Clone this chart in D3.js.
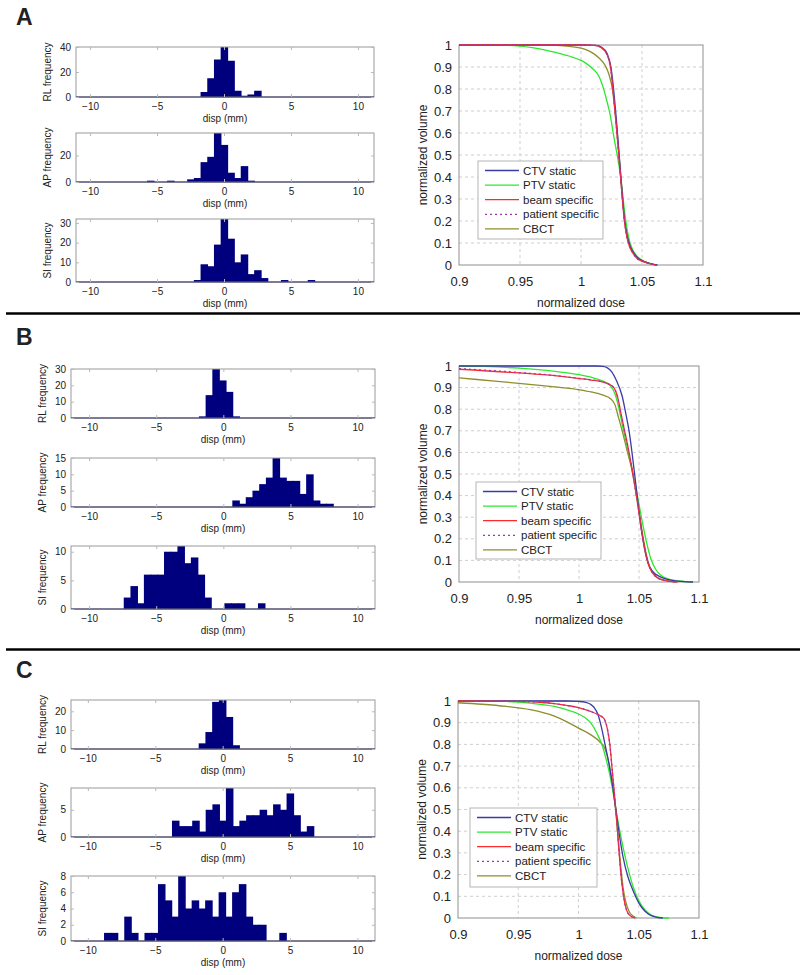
<!DOCTYPE html>
<html><head><meta charset="utf-8">
<script src="https://cdn.jsdelivr.net/npm/d3@7/dist/d3.min.js"></script>
<style>
body{margin:0;background:#fff}
text{font-family:"Liberation Sans",Arial,sans-serif;fill:#222}
</style>
</head><body>
<svg id="c" width="800" height="975"></svg>
<script>
// ---------------- DATA ----------------
const dispTicks = [-10, -5, 0, 5, 10];
const binWidth = 0.5;
const seriesNames = ["CTV static", "PTV static", "beam specific", "patient specific", "CBCT"];
const doseTicks = [0.9, 0.95, 1, 1.05, 1.1];
const volTicks = [0, 0.1, 0.2, 0.3, 0.4, 0.5, 0.6, 0.7, 0.8, 0.9, 1];

// histograms: first bin left edge (mm) and counts per 0.5 mm bin
const A_RL_start = -1.72, A_RL_counts = [4, 15, 30, 40, 29, 5, 1, 2, 5];
const A_AP_start = -5.72, A_AP_counts = [1, 0, 0, 1, 0, 0, 2, 3, 15, 19, 37, 28, 7, 3, 12, 1];
const A_SI_start = -2.22, A_SI_counts = [1, 9, 8, 19, 32, 22, 10, 14, 4, 6, 2, 0, 0, 1, 0, 0, 0, 1];
const B_RL_start = -1.79, B_RL_counts = [1, 14, 30, 23, 16, 1];
const B_AP_start = 0.70, B_AP_counts = [2, 1, 3, 5, 7, 9, 15, 9, 8, 8, 4, 10, 2, 1, 1];
const B_SI_start = -7.39, B_SI_counts = [2, 4, 1, 6, 6, 6, 10, 10, 11, 8, 9, 6, 2, 0, 0, 1, 1, 1, 0, 0, 1];
const C_RL_start = -1.75, C_RL_counts = [3, 9, 25, 26, 17, 2];
const C_AP_start = -3.73, C_AP_counts = [3, 2, 2, 3, 1, 5, 6, 3, 9, 2, 3, 4, 4, 5, 4, 6, 5, 8, 4, 1, 2];
const C_SI_start = -8.77, C_SI_counts = [1, 1, 0, 3, 1, 0, 1, 1, 7, 5, 3, 8, 4, 5, 4, 5, 3, 6, 3, 6, 7, 3, 2, 2, 0, 0, 1];

// histogram y-axis maxima and ticks
const A_yMax = [40, 37, 32], A_yTicks = [[0, 20, 40], [0, 20], [0, 10, 20, 30]];
const B_yMax = [30, 15, 11], B_yTicks = [[0, 10, 20, 30], [0, 5, 10, 15], [0, 5, 10]];
const C_yMax = [26, 9, 8],  C_yTicks = [[0, 10, 20], [0, 5], [0, 2, 4, 6, 8]];

// DVH curves: [normalized dose, normalized volume]
const A_CTV = [[0.9,1],[1.0,1],[1.012,0.998],[1.017,0.99],[1.0215,0.96],[1.0248,0.89],[1.0265,0.81],[1.029,0.66],[1.0323,0.43],[1.0358,0.2],[1.038,0.13],[1.0402,0.088],[1.0435,0.053],[1.0465,0.033],[1.051,0.018],[1.055,0.01],[1.059,0.004],[1.0625,0]];
const A_PTV = [[0.9,1],[0.94,0.998],[0.95,0.995],[0.96,0.988],[0.97,0.978],[0.98,0.965],[0.99,0.95],[1.0,0.93],[1.005,0.913],[1.01,0.89],[1.015,0.855],[1.018,0.81],[1.021,0.75],[1.024,0.68],[1.027,0.58],[1.03,0.49],[1.032,0.42],[1.034,0.33],[1.036,0.23],[1.038,0.155],[1.04,0.105],[1.043,0.062],[1.047,0.034],[1.052,0.015],[1.058,0.004],[1.063,0]];
const A_beam = [[0.9,1],[1.0,1],[1.011,0.998],[1.016,0.99],[1.021,0.96],[1.0244,0.89],[1.026,0.81],[1.0285,0.66],[1.032,0.43],[1.0356,0.2],[1.0375,0.13],[1.0397,0.085],[1.043,0.05],[1.0458,0.03],[1.05,0.018],[1.054,0.01],[1.058,0.004],[1.061,0]];
const A_patient = [[0.9,1],[1.0,1],[1.011,0.998],[1.016,0.99],[1.021,0.96],[1.0244,0.89],[1.026,0.81],[1.0285,0.66],[1.032,0.43],[1.0356,0.2],[1.0375,0.13],[1.0397,0.085],[1.043,0.05],[1.0458,0.03],[1.05,0.018],[1.054,0.01],[1.058,0.004],[1.061,0]];
const A_CBCT = [[0.9,1],[0.97,1],[0.98,0.998],[0.99,0.994],[1.0,0.986],[1.005,0.977],[1.01,0.962],[1.015,0.94],[1.02,0.905],[1.023,0.865],[1.026,0.79],[1.028,0.69],[1.03,0.58],[1.032,0.44],[1.035,0.25],[1.0375,0.14],[1.04,0.09],[1.043,0.055],[1.046,0.035],[1.05,0.02],[1.055,0.009],[1.06,0.002],[1.062,0]];

const B_CTV = [[0.9,1],[1.015,1],[1.02,0.998],[1.024,0.99],[1.027,0.975],[1.031,0.935],[1.036,0.86],[1.039,0.78],[1.0417,0.70],[1.047,0.47],[1.052,0.24],[1.0575,0.088],[1.062,0.045],[1.067,0.026],[1.074,0.012],[1.082,0.004],[1.09,0.001],[1.095,0]];
const B_PTV = [[0.9,1],[0.92,0.998],[0.95,0.99],[0.98,0.975],[1.0,0.96],[1.01,0.948],[1.02,0.93],[1.026,0.91],[1.03,0.87],[1.033,0.81],[1.036,0.73],[1.04,0.63],[1.044,0.53],[1.048,0.42],[1.052,0.3],[1.056,0.19],[1.06,0.105],[1.064,0.058],[1.068,0.032],[1.074,0.015],[1.08,0.007],[1.088,0.002],[1.095,0]];
const B_beam = [[0.9,0.985],[0.95,0.968],[0.98,0.955],[1.0,0.942],[1.01,0.935],[1.02,0.925],[1.025,0.915],[1.029,0.9],[1.032,0.86],[1.035,0.78],[1.038,0.7],[1.041,0.62],[1.044,0.53],[1.047,0.43],[1.05,0.32],[1.053,0.21],[1.056,0.12],[1.059,0.065],[1.063,0.03],[1.068,0.012],[1.075,0.004],[1.082,0]];
const B_patient = [[0.9,0.988],[0.95,0.97],[0.98,0.956],[1.0,0.943],[1.01,0.936],[1.02,0.926],[1.025,0.916],[1.029,0.9],[1.032,0.86],[1.035,0.78],[1.038,0.7],[1.041,0.62],[1.044,0.53],[1.047,0.43],[1.05,0.32],[1.053,0.21],[1.056,0.12],[1.059,0.065],[1.063,0.03],[1.068,0.012],[1.075,0.004],[1.082,0]];
const B_CBCT = [[0.9,0.945],[0.93,0.93],[0.95,0.92],[0.98,0.903],[1.0,0.89],[1.01,0.88],[1.02,0.865],[1.026,0.85],[1.03,0.82],[1.033,0.76],[1.036,0.7],[1.04,0.61],[1.044,0.52],[1.047,0.43],[1.05,0.33],[1.053,0.22],[1.056,0.13],[1.059,0.07],[1.063,0.033],[1.068,0.013],[1.075,0.004],[1.082,0]];

const C_CTV = [[0.9,1],[0.99,1],[1.0,0.998],[1.006,0.994],[1.01,0.985],[1.013,0.97],[1.016,0.94],[1.019,0.88],[1.022,0.8],[1.025,0.72],[1.028,0.62],[1.031,0.5],[1.034,0.38],[1.037,0.28],[1.041,0.19],[1.045,0.13],[1.05,0.07],[1.055,0.032],[1.06,0.012],[1.065,0.003],[1.07,0]];
const C_PTV = [[0.9,1],[0.94,0.998],[0.96,0.99],[0.98,0.975],[0.99,0.96],[1.0,0.94],[1.005,0.925],[1.01,0.9],[1.015,0.855],[1.02,0.79],[1.023,0.73],[1.026,0.66],[1.029,0.57],[1.032,0.47],[1.035,0.38],[1.038,0.3],[1.041,0.23],[1.045,0.15],[1.05,0.08],[1.055,0.038],[1.06,0.015],[1.065,0.005],[1.07,0.001],[1.075,0]];
const C_beam = [[0.9,1],[0.95,0.998],[0.97,0.993],[0.98,0.988],[0.99,0.98],[1.0,0.97],[1.01,0.952],[1.017,0.935],[1.021,0.92],[1.024,0.87],[1.026,0.8],[1.028,0.68],[1.03,0.56],[1.032,0.43],[1.034,0.28],[1.036,0.16],[1.038,0.08],[1.04,0.035],[1.043,0.01],[1.047,0]];
const C_patient = [[0.9,1],[0.95,0.998],[0.97,0.993],[0.98,0.988],[0.99,0.98],[1.0,0.97],[1.01,0.952],[1.017,0.935],[1.021,0.92],[1.024,0.87],[1.026,0.8],[1.028,0.68],[1.03,0.56],[1.032,0.43],[1.034,0.28],[1.036,0.16],[1.038,0.08],[1.04,0.035],[1.043,0.01],[1.047,0]];
const C_CBCT = [[0.9,0.992],[0.92,0.985],[0.94,0.975],[0.96,0.96],[0.98,0.93],[0.99,0.905],[1.0,0.875],[1.01,0.845],[1.018,0.81],[1.022,0.78],[1.025,0.72],[1.027,0.66],[1.029,0.58],[1.031,0.49],[1.033,0.36],[1.035,0.24],[1.037,0.14],[1.039,0.08],[1.042,0.03],[1.045,0.01],[1.048,0]];

// ---------------- LAYOUT ----------------
const seriesColors = ["#3b3ba6", "#2ee82e", "#ff2a2a", "#9a3aaa", "#8e8e2e"];
const seriesDash = [null, null, null, "2,3", null];

const panels = [
  { letter: "A", letterY: 25, sepY: null,
    hx: [76, 374], hxd: [-11.05, 11.2],
    hy: [[47, 97], [133, 182], [219, 282]],
    hist: [[A_RL_start, A_RL_counts], [A_AP_start, A_AP_counts], [A_SI_start, A_SI_counts]],
    yMax: A_yMax, yTicks: A_yTicks,
    dx: [459, 703], dy: [45, 265], leg: [478, 161, 125, 78],
    curves: [A_CTV, A_PTV, A_beam, A_patient, A_CBCT] },
  { letter: "B", letterY: 345, sepY: 313.5,
    hx: [71, 375], hxd: [-11.35, 11.3],
    hy: [[369, 418], [458, 507], [546, 609]],
    hist: [[B_RL_start, B_RL_counts], [B_AP_start, B_AP_counts], [B_SI_start, B_SI_counts]],
    yMax: B_yMax, yTicks: B_yTicks,
    dx: [459, 699], dy: [366, 582], leg: [476, 482, 125, 77],
    curves: [B_CTV, B_PTV, B_beam, B_patient, B_CBCT] },
  { letter: "C", letterY: 678, sepY: 649.5,
    hx: [71, 375], hxd: [-11.25, 11.3],
    hy: [[700, 749], [788, 837], [876, 941]],
    hist: [[C_RL_start, C_RL_counts], [C_AP_start, C_AP_counts], [C_SI_start, C_SI_counts]],
    yMax: C_yMax, yTicks: C_yTicks,
    dx: [458, 699], dy: [701, 918], leg: [470, 808, 127, 79],
    curves: [C_CTV, C_PTV, C_beam, C_patient, C_CBCT] }
];
const histLabels = ["RL frequency", "AP frequency", "SI frequency"];

const svg = d3.select("#c");
svg.append("rect").attr("width", 800).attr("height", 975).attr("fill", "#fff");

function histogram(g, start, counts, xr, xd, yr, ymax, yticks, label) {
  const x = d3.scaleLinear().domain(xd).range(xr);
  const y = d3.scaleLinear().domain([0, ymax]).range([yr[1], yr[0]]);
  const bins = counts.map((c, i) => ({ x0: start + i * binWidth, x1: start + (i + 1) * binWidth, c }));
  g.append("g").selectAll("rect").data(bins.filter(b => b.c > 0)).join("rect")
    .attr("x", b => x(b.x0) - 0.4).attr("width", b => x(b.x1) - x(b.x0) + 0.8)
    .attr("y", b => y(b.c)).attr("height", b => y(0) - y(b.c))
    .attr("fill", "#00007f").attr("stroke", "none");
  // box
  g.append("rect").attr("x", xr[0]).attr("y", yr[0]).attr("width", xr[1] - xr[0]).attr("height", yr[1] - yr[0])
    .attr("fill", "none").attr("stroke", "#9a9a9a").attr("stroke-width", 1);
  // baseline
  g.append("line").attr("x1", xr[0]).attr("x2", xr[1]).attr("y1", y(0)).attr("y2", y(0))
    .attr("stroke", "#2a2a5a").attr("stroke-width", 1);
  const ax = (gen, tr) => {
    const a = g.append("g").attr("transform", tr).call(gen);
    a.select(".domain").remove();
    a.selectAll("line").attr("stroke", "#b8b8b8");
    a.selectAll("text").attr("font-size", 10).attr("fill", "#222");
    return a;
  };
  ax(d3.axisBottom(x).tickValues(dispTicks).tickSize(-3).tickPadding(5.5).tickFormat(d3.format("d")), `translate(0,${yr[1]})`);
  ax(d3.axisTop(x).tickValues(dispTicks).tickSize(-3).tickFormat(""), `translate(0,${yr[0]})`);
  ax(d3.axisLeft(y).tickValues(yticks).tickSize(-3).tickPadding(5).tickFormat(d3.format("d")), `translate(${xr[0]},0)`);
  ax(d3.axisRight(y).tickValues(yticks).tickSize(-3).tickFormat(""), `translate(${xr[1]},0)`);
  g.append("text").attr("x", (xr[0] + xr[1]) / 2).attr("y", yr[1] + 25).attr("text-anchor", "middle")
    .attr("font-size", 10).text("disp (mm)");
  g.append("text").attr("transform", `translate(${xr[0] - 25},${(yr[0] + yr[1]) / 2}) rotate(-90)`)
    .attr("text-anchor", "middle").attr("font-size", 10).text(label);
}

function dvh(g, p) {
  const x = d3.scaleLinear().domain([0.9, 1.1]).range(p.dx);
  const y = d3.scaleLinear().domain([0, 1]).range([p.dy[1], p.dy[0]]);
  // grid
  g.append("g").selectAll("line").data(doseTicks.slice(1, -1)).join("line")
    .attr("x1", d => x(d)).attr("x2", d => x(d)).attr("y1", p.dy[0]).attr("y2", p.dy[1])
    .attr("stroke", "#cfcfcf").attr("stroke-dasharray", "3,3");
  g.append("g").selectAll("line").data(volTicks.slice(1, -1)).join("line")
    .attr("y1", d => y(d)).attr("y2", d => y(d)).attr("x1", p.dx[0]).attr("x2", p.dx[1])
    .attr("stroke", "#cfcfcf").attr("stroke-dasharray", "3,3");
  g.append("rect").attr("x", p.dx[0]).attr("y", p.dy[0]).attr("width", p.dx[1] - p.dx[0]).attr("height", p.dy[1] - p.dy[0])
    .attr("fill", "none").attr("stroke", "#8f8f8f");
  const fmt = d => (d === 0 ? "0" : d === 1 ? "1" : String(d));
  const xa = g.append("g").attr("transform", `translate(0,${p.dy[1]})`)
    .call(d3.axisBottom(x).tickValues(doseTicks).tickSize(0).tickPadding(11.5).tickFormat(fmt));
  const ya = g.append("g").attr("transform", `translate(${p.dx[0]},0)`)
    .call(d3.axisLeft(y).tickValues(volTicks).tickSize(0).tickPadding(7).tickFormat(fmt));
  [xa, ya].forEach(a => { a.select(".domain").remove(); a.selectAll("text").attr("font-size", 13).attr("fill", "#222"); });
  g.append("text").attr("x", (p.dx[0] + p.dx[1]) / 2).attr("y", p.dy[1] + 42).attr("text-anchor", "middle")
    .attr("font-size", 12).text("normalized dose");
  g.append("text").attr("transform", `translate(${p.dx[0] - 32},${(p.dy[0] + p.dy[1]) / 2}) rotate(-90)`)
    .attr("text-anchor", "middle").attr("font-size", 12).text("normalized volume");
  const line = d3.line().x(d => x(d[0])).y(d => y(d[1])).curve(d3.curveMonotoneX);
  const order = [4, 1, 0, 2, 3];
  order.forEach(i => {
    g.append("path").attr("d", line(p.curves[i])).attr("fill", "none")
      .attr("stroke", seriesColors[i]).attr("stroke-width", 1.3)
      .attr("stroke-dasharray", seriesDash[i]);
  });
  // legend
  const [lx, ly, lw, lh] = p.leg;
  g.append("rect").attr("x", lx).attr("y", ly).attr("width", lw).attr("height", lh)
    .attr("fill", "#fff").attr("stroke", "#b5b5b5");
  seriesNames.forEach((n, i) => {
    const yy = ly + 9.5 + i * 14.6;
    g.append("line").attr("x1", lx + 7).attr("x2", lx + 41).attr("y1", yy).attr("y2", yy)
      .attr("stroke", seriesColors[i]).attr("stroke-width", 1.3).attr("stroke-dasharray", seriesDash[i]);
    g.append("text").attr("x", lx + 45).attr("y", yy + 4).attr("font-size", 11.5).text(n);
  });
}

panels.forEach(p => {
  const g = svg.append("g");
  if (p.sepY !== null) {
    g.append("line").attr("x1", 6).attr("x2", 800).attr("y1", p.sepY).attr("y2", p.sepY)
      .attr("stroke", "#000").attr("stroke-width", 2.5);
  }
  g.append("text").attr("x", 16).attr("y", p.letterY).attr("font-size", 23).attr("font-weight", "bold")
    .attr("fill", "#000").text(p.letter);
  p.hist.forEach((h, k) => histogram(g, h[0], h[1], p.hx, p.hxd, p.hy[k], p.yMax[k], p.yTicks[k], histLabels[k]));
  dvh(g, p);
});
</script>
</body></html>
